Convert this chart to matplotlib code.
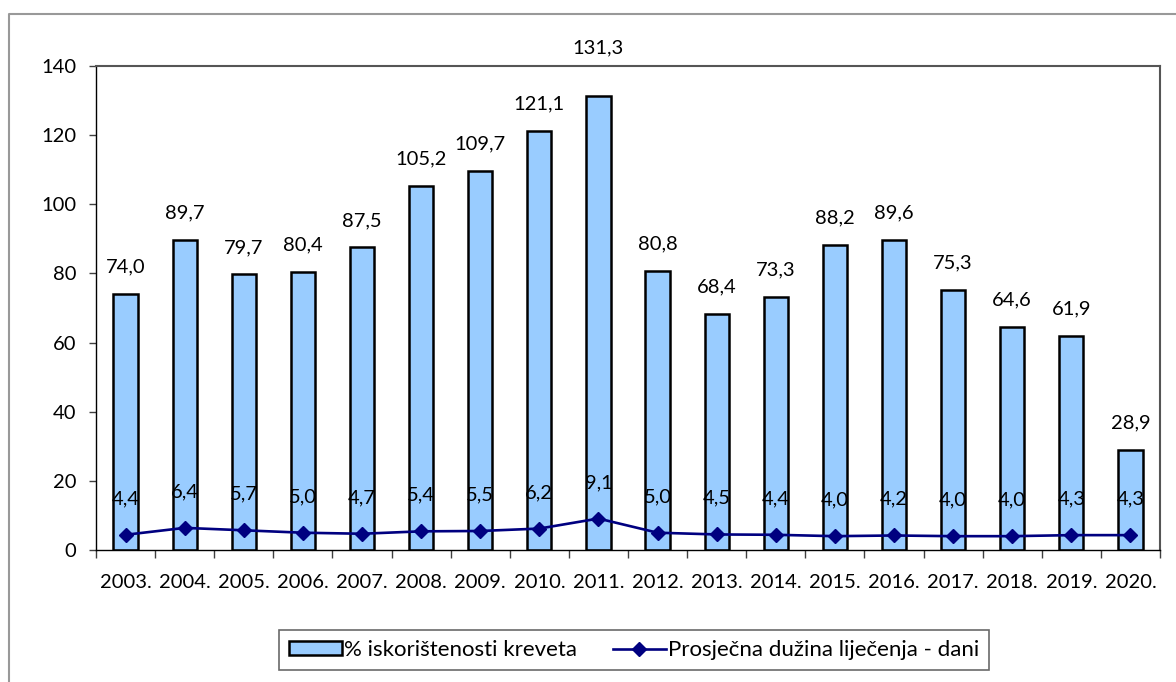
import matplotlib
matplotlib.use("Agg")
import matplotlib.pyplot as plt
from matplotlib.lines import Line2D
from matplotlib.patches import Patch
import numpy as np

plt.rcParams['font.family'] = ['Lato', 'DejaVu Sans']

years = ["2003.", "2004.", "2005.", "2006.", "2007.", "2008.", "2009.", "2010.", "2011.",
         "2012.", "2013.", "2014.", "2015.", "2016.", "2017.", "2018.", "2019.", "2020."]
bed_use = [74.0, 89.7, 79.7, 80.4, 87.5, 105.2, 109.7, 121.1, 131.3,
           80.8, 68.4, 73.3, 88.2, 89.6, 75.3, 64.6, 61.9, 28.9]
avg_stay = [4.4, 6.4, 5.7, 5.0, 4.7, 5.4, 5.5, 6.2, 9.1,
            5.0, 4.5, 4.4, 4.0, 4.2, 4.0, 4.0, 4.3, 4.3]
yticks = [0, 20, 40, 60, 80, 100, 120, 140]

bar_label = "% iskorištenosti kreveta"
line_label = "Prosječna dužina liječenja - dani"

W, H = 1176, 682
fig = plt.figure(figsize=(W / 100, H / 100), dpi=100)
ax = fig.add_axes([96 / W, 1 - 550 / H, (1160 - 96) / W, (550 - 66) / H])

x = np.arange(len(years))
fs = 14.5
fs_leg = 16

ax.bar(x, bed_use, width=0.41, color="#99CCFF", edgecolor="black", linewidth=1.8, zorder=2)
ax.plot(x, avg_stay, color="#000080", linewidth=1.9, marker="D", markersize=7.5,
        markerfacecolor="#000080", markeredgecolor="#000080", zorder=3)

def fmt(v):
    return f"{v:.1f}".replace(".", ",")

# bar value labels; the tallest one sits above the plot frame
for xi, v in zip(x, bed_use):
    off = 35 if v == max(bed_use) else 19.5
    ax.annotate(fmt(v), (xi, v), xytext=(0, off), textcoords="offset points",
                ha="center", va="center", fontsize=fs, annotation_clip=False, zorder=4)

for xi, v in zip(x, avg_stay):
    ax.annotate(fmt(v), (xi, v), xytext=(0, 26), textcoords="offset points",
                ha="center", va="center", fontsize=fs, zorder=4)

ax.set_xlim(-0.5, len(years) - 0.5)
ax.set_ylim(0, 140)
ax.set_yticks(yticks)
ax.set_yticklabels([str(t) for t in yticks], fontsize=fs)
ax.set_xticks(x)
ax.set_xticklabels(years, fontsize=fs)
ax.set_xticks(np.arange(-0.5, len(years)), minor=True)
ax.tick_params(axis="x", which="major", length=0, pad=17)
ax.tick_params(axis="x", which="minor", length=6, width=1, color="#404040", direction="out")
ax.tick_params(axis="y", length=5, width=1, color="#404040", direction="out", pad=9)

for s in ("left", "bottom"):
    ax.spines[s].set_color("black")
    ax.spines[s].set_linewidth(1.0)
for s in ("top", "right"):
    ax.spines[s].set_color("#555555")
    ax.spines[s].set_linewidth(1.5)

handles = [Patch(facecolor="#99CCFF", edgecolor="black", linewidth=1.8, label=bar_label),
           Line2D([0], [0], color="#000080", linewidth=1.9, marker="D", markersize=7.5,
                  label=line_label)]
leg = fig.legend(handles=handles, loc="center", bbox_to_anchor=(634 / W, 1 - 650 / H),
                 ncol=2, fontsize=fs_leg, frameon=True, fancybox=False, handlelength=2.4,
                 handleheight=0.55, handletextpad=0.1, columnspacing=1.6, borderpad=0.45)
leg.get_frame().set_edgecolor("#444444")
leg.get_frame().set_linewidth(1.2)

# outer chart border (left and top edges visible)
fig.add_artist(Line2D([9 / W, 9 / W, 1.0], [0.0, 1 - 14 / H, 1 - 14 / H],
                      transform=fig.transFigure, color="#999999", linewidth=1.5))

fig.savefig("out.png", dpi=100)
